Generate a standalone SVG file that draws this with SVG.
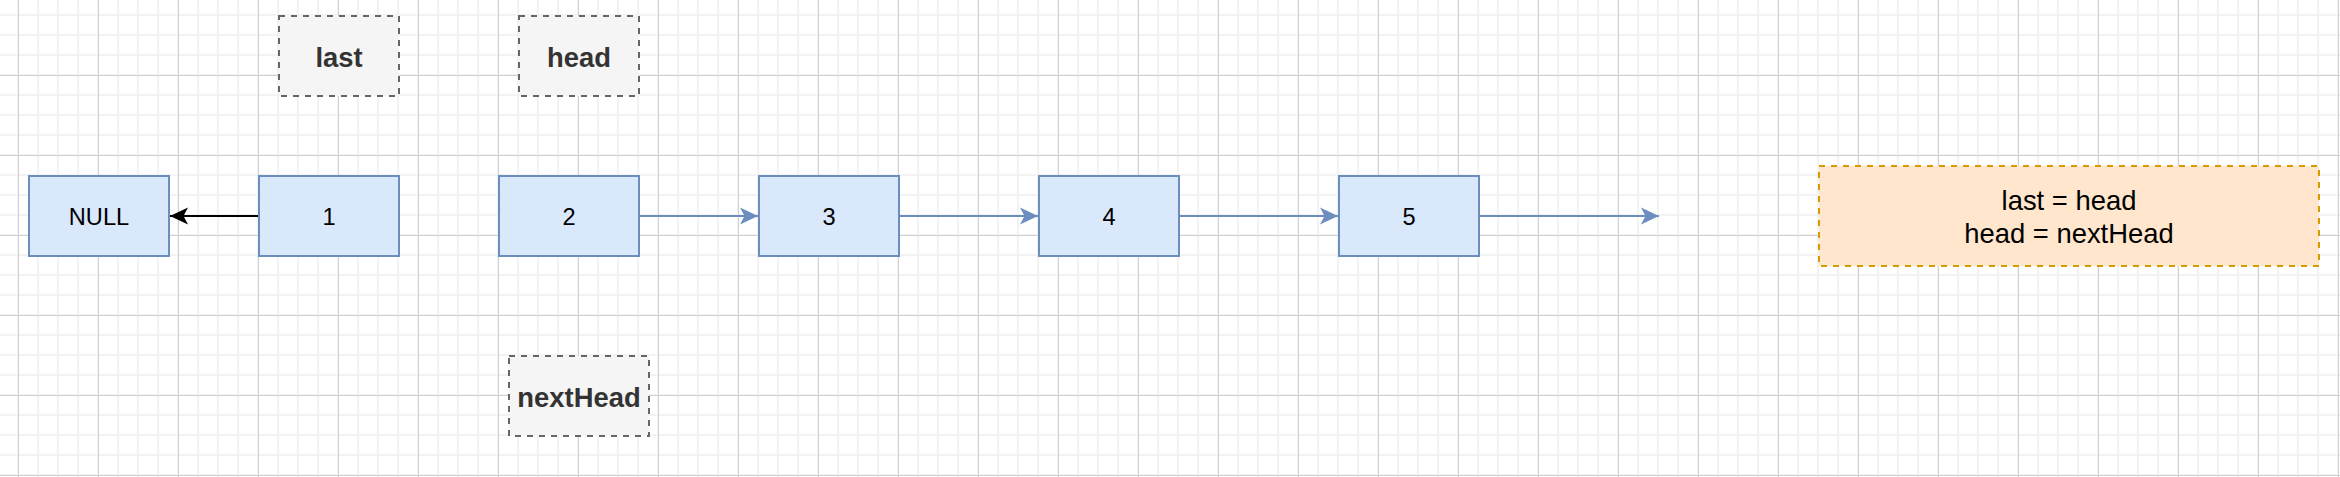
<svg xmlns="http://www.w3.org/2000/svg" width="2340" height="477" viewBox="0 0 2340 477">
  <style>
    .node rect { fill: #dae8fc; stroke: #6c8ebf; stroke-width: 2; }
    .node text { font-family: "Liberation Sans", Arial, sans-serif; font-size: 23.6px; fill: #000000; text-anchor: middle; }
    .label rect { fill: #f5f5f5; stroke: #666666; stroke-width: 2; stroke-dasharray: 6 6; }
    .label text { font-family: "Liberation Sans", Arial, sans-serif; font-size: 27.4px; font-weight: bold; fill: #333333; text-anchor: middle; }
    .note rect { fill: #ffe6cc; stroke: #d79b00; stroke-width: 2; stroke-dasharray: 6 6; }
    .note text { font-family: "Liberation Sans", Arial, sans-serif; font-size: 27.4px; fill: #000000; text-anchor: middle; }
    .edge { fill: none; stroke-width: 2; }
    .blue { stroke: #6c8ebf; }
    .black { stroke: #000000; }
  </style>
  <defs>
    <pattern id="minor" x="8" y="5" width="20" height="20" patternUnits="userSpaceOnUse">
      <path d="M10 0 V20 M0 10 H20" stroke="#f3f3f3" stroke-width="2" fill="none"/>
    </pattern>
    <pattern id="major" x="-22" y="35" width="80" height="80" patternUnits="userSpaceOnUse">
      <path d="M40.5 0 V80 M0 40.5 H80" stroke="#d0d0d0" stroke-width="1" fill="none"/>
    </pattern>
    <marker id="arrBlue" viewBox="0 0 18 18" refX="18" refY="9" markerWidth="18" markerHeight="18" markerUnits="userSpaceOnUse" orient="auto">
      <path d="M18 9 L0 0.5 L4.5 9 L0 17.5 Z" fill="#6c8ebf"/>
    </marker>
    <marker id="arrBlack" viewBox="0 0 18 18" refX="18" refY="9" markerWidth="18" markerHeight="18" markerUnits="userSpaceOnUse" orient="auto">
      <path d="M18 9 L0 0.5 L4.5 9 L0 17.5 Z" fill="#000000"/>
    </marker>
  </defs>
  <rect x="0" y="0" width="2340" height="477" fill="#ffffff"/>
  <rect x="0" y="0" width="2340" height="477" fill="url(#minor)"/>
  <rect x="0" y="0" width="2340" height="477" fill="url(#major)"/>

  <g id="connectors">
    <path class="edge black" d="M259 216 H170" marker-end="url(#arrBlack)"/>
    <path class="edge blue" d="M639 216 H758" marker-end="url(#arrBlue)"/>
    <path class="edge blue" d="M899 216 H1038" marker-end="url(#arrBlue)"/>
    <path class="edge blue" d="M1179 216 H1338" marker-end="url(#arrBlue)"/>
    <path class="edge blue" d="M1479 216 H1659" marker-end="url(#arrBlue)"/>
  </g>

  <g id="node-null" class="node">
    <rect x="29" y="176" width="140" height="80"/>
    <text x="99" y="224.5">NULL</text>
  </g>
  <g id="node-1" class="node">
    <rect x="259" y="176" width="140" height="80"/>
    <text x="329" y="224.5">1</text>
  </g>
  <g id="node-2" class="node">
    <rect x="499" y="176" width="140" height="80"/>
    <text x="569" y="224.5">2</text>
  </g>
  <g id="node-3" class="node">
    <rect x="759" y="176" width="140" height="80"/>
    <text x="829" y="224.5">3</text>
  </g>
  <g id="node-4" class="node">
    <rect x="1039" y="176" width="140" height="80"/>
    <text x="1109" y="224.5">4</text>
  </g>
  <g id="node-5" class="node">
    <rect x="1339" y="176" width="140" height="80"/>
    <text x="1409" y="224.5">5</text>
  </g>

  <g id="label-last" class="label">
    <rect x="279" y="16" width="120" height="80"/>
    <text x="339" y="66.5">last</text>
  </g>
  <g id="label-head" class="label">
    <rect x="519" y="16" width="120" height="80"/>
    <text x="579" y="66.5">head</text>
  </g>
  <g id="label-nexthead" class="label">
    <rect x="509" y="356" width="140" height="80"/>
    <text x="579" y="406.5">nextHead</text>
  </g>

  <g id="note" class="note">
    <rect x="1819" y="166" width="500" height="100"/>
    <text x="2069" y="210">last = head</text>
    <text x="2069" y="242.5">head = nextHead</text>
  </g>
</svg>
